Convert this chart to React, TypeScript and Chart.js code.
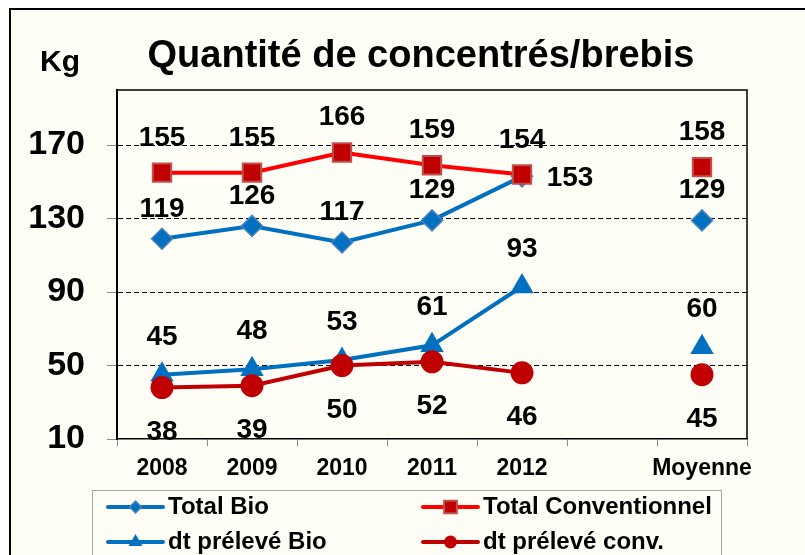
import React, { useEffect, useRef } from 'react';
import { Chart, registerables } from 'chart.js';

Chart.register(...registerables);

// ---- data ----
const categories = ['2008', '2009', '2010', '2011', '2012', '', 'Moyenne'];
const totalBio = [119, 126, 117, 129, 153, null, 129];
const totalConv = [155, 155, 166, 159, 154, null, 158];
const prelBio = [45, 48, 53, 61, 93, null, 60];
const prelConv = [38, 39, 50, 52, 46, null, 45];
const seriesNames = ['Total Bio', 'Total Conventionnel', 'dt prélevé Bio', 'dt prélevé conv.'];
const yMin = 10;
const yMax = 200;
const yTickValues = [10, 50, 90, 130, 170];
const chartTitle = 'Quantité de concentrés/brebis';
const unitLabel = 'Kg';

// ---- styles ----
const FONT = "'Liberation Sans', Arial, Helvetica, sans-serif";
const BG = '#FFFEF6';
const BLUE = '#0070C0';
const BLUE_EDGE = '#4F81BD';
const RED = '#FF0000';
const DARK_RED = '#C00000';
const RED_EDGE = '#C0504D';

// label placement per series (relative to the point)
const labelPlacement = [
  { dx: 0, dy: -32, special: { 4: { dx: 48, dy: 0 } } },
  { dx: 0, dy: -37, special: {} },
  { dx: 0, dy: -40, special: {} },
  { dx: 0, dy: 42, special: {} },
];

function drawMarker(ctx: CanvasRenderingContext2D, style: string, x: number, y: number, r: number, fill: string, stroke: string, bw: number) {
  ctx.beginPath();
  if (style === 'rectRot') {
    ctx.moveTo(x, y - r);
    ctx.lineTo(x + r, y);
    ctx.lineTo(x, y + r);
    ctx.lineTo(x - r, y);
    ctx.closePath();
  } else if (style === 'rect') {
    const s = r * Math.SQRT1_2;
    ctx.rect(x - s, y - s, 2 * s, 2 * s);
  } else if (style === 'triangle') {
    ctx.moveTo(x, y - r);
    ctx.lineTo(x + r * 0.866, y + r / 2);
    ctx.lineTo(x - r * 0.866, y + r / 2);
    ctx.closePath();
  } else {
    ctx.arc(x, y, r, 0, Math.PI * 2);
  }
  ctx.fillStyle = fill;
  ctx.fill();
  if (bw > 0) {
    ctx.lineWidth = bw;
    ctx.strokeStyle = stroke;
    ctx.stroke();
  }
}

const decorPlugin = {
  id: 'decor',
  beforeDraw(chart: any) {
    const { ctx, width, height } = chart;
    ctx.save();
    ctx.fillStyle = '#ffffff';
    ctx.fillRect(0, 0, width, height);
    ctx.fillStyle = BG;
    ctx.fillRect(10, 9, width, height);
    ctx.strokeStyle = '#000';
    ctx.lineWidth = 2;
    ctx.strokeRect(10, 9, width + 20, height + 20);
    ctx.restore();
  },
  afterDatasetsDraw(chart: any) {
    const { ctx } = chart;
    ctx.save();
    ctx.font = `bold 28px ${FONT}`;
    ctx.fillStyle = '#000';
    ctx.textAlign = 'center';
    ctx.textBaseline = 'alphabetic';
    chart.data.datasets.forEach((ds: any, i: number) => {
      const meta = chart.getDatasetMeta(i);
      const pl = labelPlacement[i];
      ds.data.forEach((v: number | null, j: number) => {
        if (v === null || v === undefined) return;
        const el = meta.data[j];
        const sp = (pl.special as any)[j] || { dx: pl.dx, dy: pl.dy };
        const cx = el.x + sp.dx;
        const cy = el.y + sp.dy;
        ctx.fillText(String(v), cx, cy + 0.358 * 28);
      });
    });
    ctx.restore();
  },
  afterDraw(chart: any) {
    const { ctx, chartArea } = chart;
    ctx.save();
    // plot frame (top & right)
    ctx.strokeStyle = '#000';
    ctx.lineWidth = 1.5;
    ctx.beginPath();
    ctx.moveTo(chartArea.left, chartArea.top);
    ctx.lineTo(chartArea.right, chartArea.top);
    ctx.lineTo(chartArea.right, chartArea.bottom);
    ctx.stroke();

    // title
    ctx.fillStyle = '#000';
    ctx.textAlign = 'center';
    ctx.textBaseline = 'alphabetic';
    ctx.font = `bold 38px ${FONT}`;
    ctx.fillText(chartTitle, 421, 67);
    ctx.font = `bold 30px ${FONT}`;
    ctx.fillText(unitLabel, 60, 71);

    // legend
    ctx.strokeStyle = '#A6A6A6';
    ctx.lineWidth = 1;
    ctx.strokeRect(92.5, 490.5, 629, 100);
    const cols = [108, 423];
    const rows = [507, 542];
    const lineLen = 55;
    chart.data.datasets.forEach((ds: any, i: number) => {
      const col = i % 2;
      const row = Math.floor(i / 2);
      const x0 = cols[col];
      const y = rows[row];
      ctx.strokeStyle = ds.borderColor;
      ctx.lineWidth = 4;
      ctx.lineCap = 'round';
      ctx.beginPath();
      ctx.moveTo(x0, y);
      ctx.lineTo(x0 + lineLen, y);
      ctx.stroke();
      const mr = ds.pointStyle === 'rectRot' ? 6 : ds.pointStyle === 'rect' ? 9 : ds.pointStyle === 'triangle' ? 8 : 6.5;
      drawMarker(ctx, ds.pointStyle, x0 + lineLen / 2, y, mr, ds.pointBackgroundColor, ds.pointBorderColor, ds.pointBorderWidth);
      ctx.fillStyle = '#000';
      ctx.textAlign = 'left';
      ctx.font = `bold 24px ${FONT}`;
      ctx.fillText(ds.label, x0 + lineLen + 5, y + 7);
    });
    ctx.restore();
  },
};

export default function App() {
  const ref = useRef<HTMLCanvasElement | null>(null);

  useEffect(() => {
    document.body.style.margin = '0';
    const canvas = ref.current;
    if (!canvas) return;
    const chart = new Chart(canvas, {
      type: 'line',
      data: {
        labels: categories,
        datasets: [
          {
            label: seriesNames[0],
            data: totalBio,
            borderColor: BLUE,
            backgroundColor: BLUE,
            borderWidth: 4,
            pointStyle: 'rectRot',
            pointRadius: 10.5,
            pointBackgroundColor: BLUE,
            pointBorderColor: BLUE_EDGE,
            pointBorderWidth: 1.5,
            order: 3,
          },
          {
            label: seriesNames[1],
            data: totalConv,
            borderColor: RED,
            backgroundColor: RED,
            borderWidth: 4,
            pointStyle: 'rect',
            pointRadius: 13,
            pointBackgroundColor: DARK_RED,
            pointBorderColor: RED_EDGE,
            pointBorderWidth: 2,
            order: 2,
          },
          {
            label: seriesNames[2],
            data: prelBio,
            borderColor: BLUE,
            backgroundColor: BLUE,
            borderWidth: 4,
            pointStyle: 'triangle',
            pointRadius: 13.5,
            pointBackgroundColor: BLUE,
            pointBorderColor: BLUE,
            pointBorderWidth: 0,
            order: 1,
          },
          {
            label: seriesNames[3],
            data: prelConv,
            borderColor: DARK_RED,
            backgroundColor: DARK_RED,
            borderWidth: 4,
            pointStyle: 'circle',
            pointRadius: 11.5,
            pointBackgroundColor: DARK_RED,
            pointBorderColor: DARK_RED,
            pointBorderWidth: 0,
            order: 0,
          },
        ],
      },
      options: {
        responsive: false,
        animation: false,
        events: [],
        devicePixelRatio: 1,
        layout: { padding: { top: 90, right: 58, left: 0, bottom: 0 } },
        elements: { line: { tension: 0 } },
        plugins: {
          legend: { display: false },
          title: { display: false },
          tooltip: { enabled: false },
        },
        scales: {
          x: {
            type: 'category',
            offset: true,
            afterFit: (s: any) => { s.height = 116; },
            grid: {
              offset: true,
              drawOnChartArea: false,
              drawTicks: true,
              tickLength: 7,
              tickColor: '#8C8C8C',
              tickWidth: 1,
            },
            border: { display: true, color: '#000', width: 1.5 },
            ticks: {
              autoSkip: false,
              maxRotation: 0,
              color: '#000',
              padding: 9,
              font: { family: FONT, size: 23, weight: 'bold' },
            },
          },
          y: {
            min: yMin,
            max: yMax,
            afterFit: (s: any) => { s.width = 117; },
            afterBuildTicks: (s: any) => {
              s.ticks = yTickValues.map((v) => ({ value: v }));
            },
            grid: {
              color: (c: any) => (c.tick && c.tick.value === yMin ? 'rgba(0,0,0,0)' : '#000'),
              lineWidth: 1,
              drawTicks: true,
              tickLength: 10,
              tickColor: '#8C8C8C',
              tickWidth: 1,
              tickBorderDash: [],
            },
            border: { display: true, color: '#000', width: 2, dash: [5, 3] },
            ticks: {
              color: '#000',
              padding: 22,
              font: { family: FONT, size: 34, weight: 'bold' },
            },
          },
        },
      },
      plugins: [decorPlugin],
    } as any);
    return () => chart.destroy();
  }, []);

  return <canvas ref={ref} width={805} height={555} style={{ display: 'block' }} />;
}
